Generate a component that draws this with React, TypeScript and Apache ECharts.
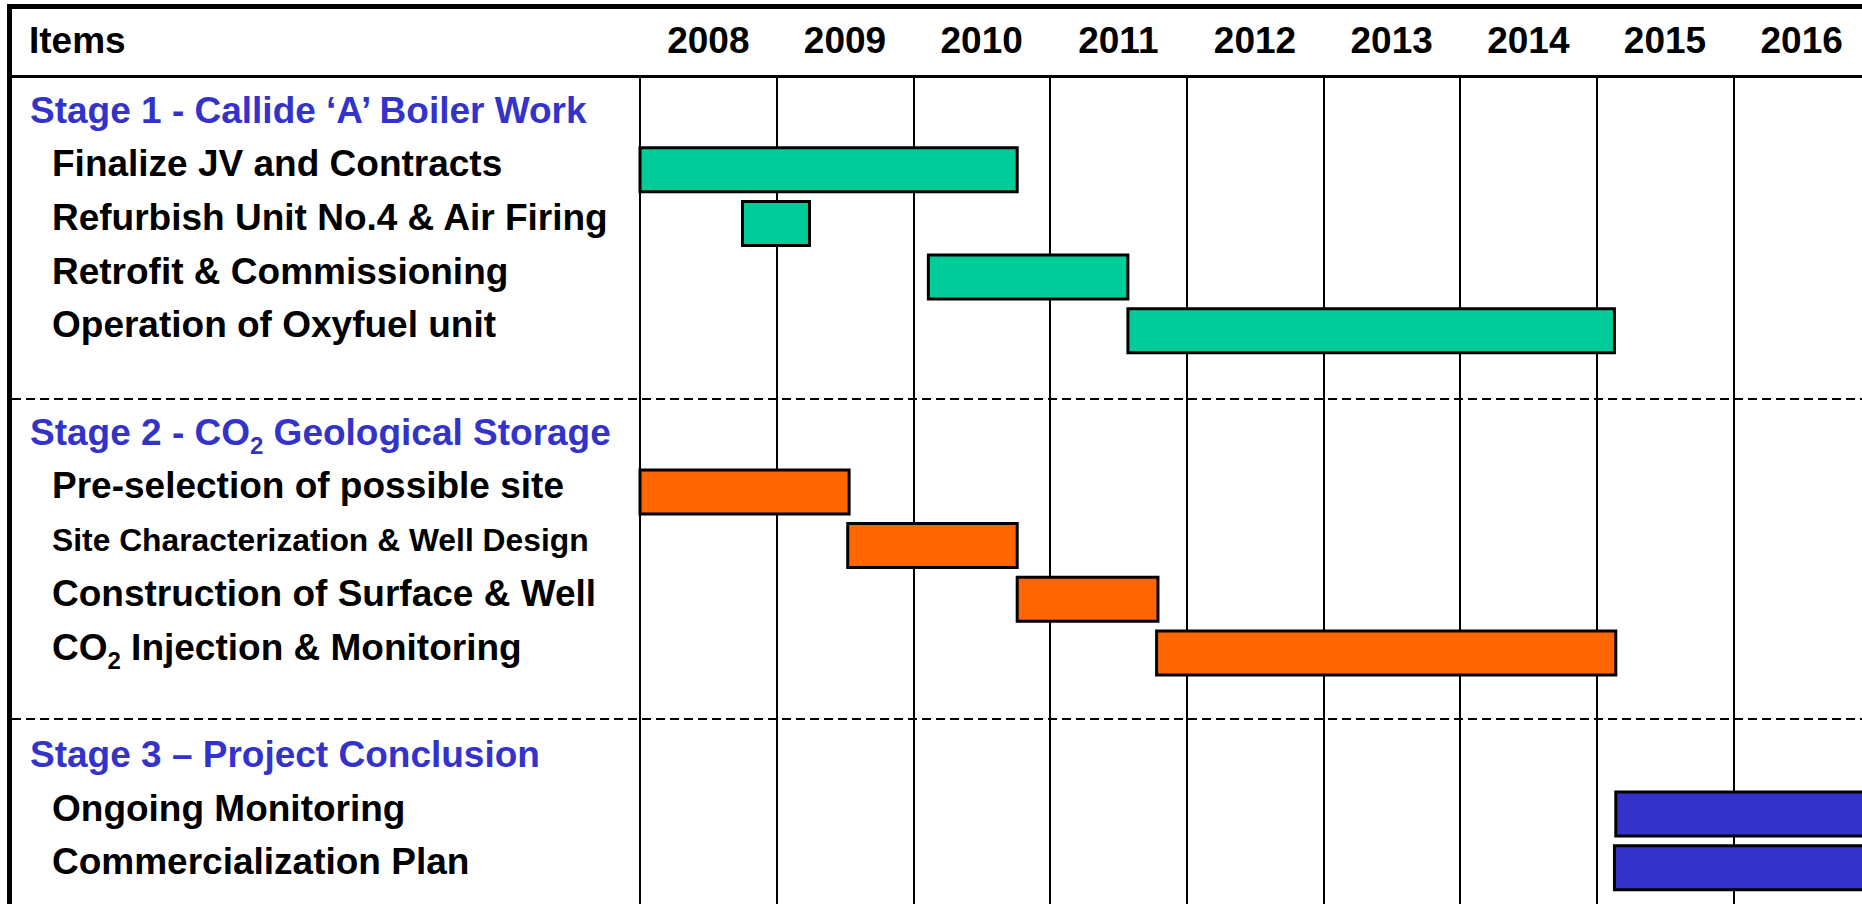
import React, { useEffect, useRef } from "react";
import * as echarts from "echarts";

const years = ["2008", "2009", "2010", "2011", "2012", "2013", "2014", "2015", "2016"];

const stageTitles = [
  "Stage 1 - Callide \u2018A\u2019 Boiler Work",
  "Stage 2 - CO\u2082 Geological Storage",
  "Stage 3 \u2013 Project Conclusion",
];

const stage1Tasks = [
  "Finalize JV and Contracts",
  "Refurbish Unit No.4 & Air Firing",
  "Retrofit & Commissioning",
  "Operation of Oxyfuel unit",
];
const stage1Start = [2008.0, 2008.75, 2010.11, 2011.57];
const stage1End = [2010.76, 2009.24, 2011.57, 2015.13];

const stage2Tasks = [
  "Pre-selection of possible site",
  "Site Characterization & Well Design",
  "Construction of Surface & Well",
  "CO\u2082 Injection & Monitoring",
];
const stage2Start = [2008.0, 2009.52, 2010.76, 2011.78];
const stage2End = [2009.53, 2010.76, 2011.79, 2015.14];

const stage3Tasks = ["Ongoing Monitoring", "Commercialization Plan"];
const stage3Start = [2015.14, 2015.13];
const stage3End = [2017, 2017];

const smallTasks = ["Site Characterization & Well Design"];

const stageColors = ["#00CC99", "#FF6600", "#3333CC"];
const stageTextColor = "#3333CC";

const rows = [
  stageTitles[0],
  ...stage1Tasks,
  "",
  stageTitles[1],
  ...stage2Tasks,
  " ",
  stageTitles[2],
  ...stage3Tasks,
];

const FONT = "'Liberation Sans', Arial, Helvetica, sans-serif";

function buildData(tasks: string[], starts: number[], ends: number[]) {
  return tasks.map((t, i) => [rows.indexOf(t), starts[i], ends[i]]);
}

export default function App() {
  const ref = useRef<HTMLDivElement>(null);

  useEffect(() => {
    document.body.style.margin = "0";
    document.body.style.overflow = "hidden";
    document.documentElement.style.overflow = "hidden";
    const chart = echarts.init(ref.current!, undefined, { renderer: "svg" });

    const W = 1880;
    const H = 904;
    const colLeft = 640;
    const colWidth = 1230;
    const headerY = 77;
    const rowTop = 83.15;
    const rowH = 53.7;
    const rowsHeight = rowH * rows.length;

    const renderBar = (color: string) => (params: any, api: any) => {
      const row = api.value(0);
      const p0 = api.coord([api.value(1), row]);
      const p1 = api.coord([api.value(2), row]);
      const band = api.size([0, 1])[1];
      const h = band * 0.82;
      const dy = 6;
      return {
        type: "rect",
        shape: { x: p0[0], y: p0[1] - h / 2 + dy, width: p1[0] - p0[0], height: h },
        style: { fill: color, stroke: "#000", lineWidth: 3 },
      };
    };

    const labelFormatter = (v: string) => {
      if (!v.trim()) return "";
      const isStage = stageTitles.includes(v);
      const base = isStage ? "stage" : smallTasks.includes(v) ? "small" : "item";
      const parts = v.split("\u2082");
      return parts
        .map((p, i) => `{${i === 0 && !isStage ? base + "Lead" : base}|${p}}`)
        .join(`{${base}Sub|2}`);
    };

    const mkStyle = (size: number, color: string, extra: any = {}) => ({
      fontSize: size,
      fontWeight: "bold",
      fontFamily: FONT,
      color,
      lineHeight: size + 4,
      verticalAlign: "middle",
      ...extra,
    });

    const option: any = {
      animation: false,
      backgroundColor: "#ffffff",
      grid: [
        { left: colLeft, top: headerY, width: colWidth, height: H - headerY, containLabel: false },
        { left: colLeft, top: rowTop, width: colWidth, height: rowsHeight, containLabel: false },
      ],
      xAxis: [
        {
          type: "category",
          gridIndex: 0,
          position: "top",
          data: years,
          boundaryGap: true,
          axisLine: { show: false },
          axisTick: { show: true, length: 72, interval: 0, lineStyle: { color: "#000", width: 2 } },
          splitLine: { show: true, interval: 0, lineStyle: { color: "#000", width: 2 } },
          axisLabel: {
            interval: 0,
            margin: 37,
            verticalAlign: "middle",
            fontSize: 37,
            fontWeight: "bold",
            fontFamily: FONT,
            color: "#000",
          },
        },
        {
          type: "value",
          gridIndex: 1,
          min: 2008,
          max: 2017,
          show: false,
        },
      ],
      yAxis: [
        { type: "value", gridIndex: 0, show: false },
        {
          type: "category",
          gridIndex: 1,
          inverse: true,
          data: rows,
          axisLine: { show: false },
          axisTick: { show: false },
          splitLine: { show: false },
          axisLabel: {
            interval: 0,
            align: "left",
            margin: colLeft - 30,
            formatter: labelFormatter,
            rich: {
              stage: mkStyle(37, stageTextColor),
              stageSub: mkStyle(24, stageTextColor, { lineHeight: 24, padding: [26, 0, 0, 0] }),
              item: mkStyle(37, "#000"),
              itemLead: mkStyle(37, "#000", { padding: [0, 0, 0, 22] }),
              itemSub: mkStyle(24, "#000", { lineHeight: 24, padding: [26, 0, 0, 0] }),
              small: mkStyle(31.8, "#000"),
              smallLead: mkStyle(31.8, "#000", { padding: [0, 0, 0, 22] }),
              smallSub: mkStyle(21, "#000", { lineHeight: 21, padding: [22, 0, 0, 0] }),
            },
          },
        },
      ],
      series: [
        {
          type: "custom",
          xAxisIndex: 1,
          yAxisIndex: 1,
          renderItem: renderBar(stageColors[0]),
          encode: { x: [1, 2], y: 0 },
          data: buildData(stage1Tasks, stage1Start, stage1End),
        },
        {
          type: "custom",
          xAxisIndex: 1,
          yAxisIndex: 1,
          renderItem: renderBar(stageColors[1]),
          encode: { x: [1, 2], y: 0 },
          data: buildData(stage2Tasks, stage2Start, stage2End),
        },
        {
          type: "custom",
          xAxisIndex: 1,
          yAxisIndex: 1,
          renderItem: renderBar(stageColors[2]),
          encode: { x: [1, 2], y: 0 },
          data: buildData(stage3Tasks, stage3Start, stage3End),
        },
      ],
      graphic: [
        {
          type: "line",
          shape: { x1: 7, y1: 6.5, x2: W, y2: 6.5 },
          style: { stroke: "#000", lineWidth: 5 },
        },
        {
          type: "line",
          shape: { x1: 9.5, y1: 4, x2: 9.5, y2: H },
          style: { stroke: "#000", lineWidth: 5 },
        },
        {
          type: "line",
          shape: { x1: 10, y1: headerY - 0.5, x2: W, y2: headerY - 0.5 },
          style: { stroke: "#000", lineWidth: 3 },
        },
        {
          type: "line",
          shape: { x1: 12, y1: 399, x2: W, y2: 399 },
          style: { stroke: "#000", lineWidth: 2, lineDash: [9, 5] },
        },
        {
          type: "line",
          shape: { x1: 12, y1: 719, x2: W, y2: 719 },
          style: { stroke: "#000", lineWidth: 2, lineDash: [9, 5] },
        },
        {
          type: "text",
          x: 29,
          y: 40,
          style: {
            text: "Items",
            font: `bold 37px ${FONT}`,
            fill: "#000",
            textAlign: "left",
            textVerticalAlign: "middle",
          },
        },
      ],
    };

    chart.setOption(option);
    return () => chart.dispose();
  }, []);

  return <div ref={ref} style={{ width: 1880, height: 904 }} />;
}
